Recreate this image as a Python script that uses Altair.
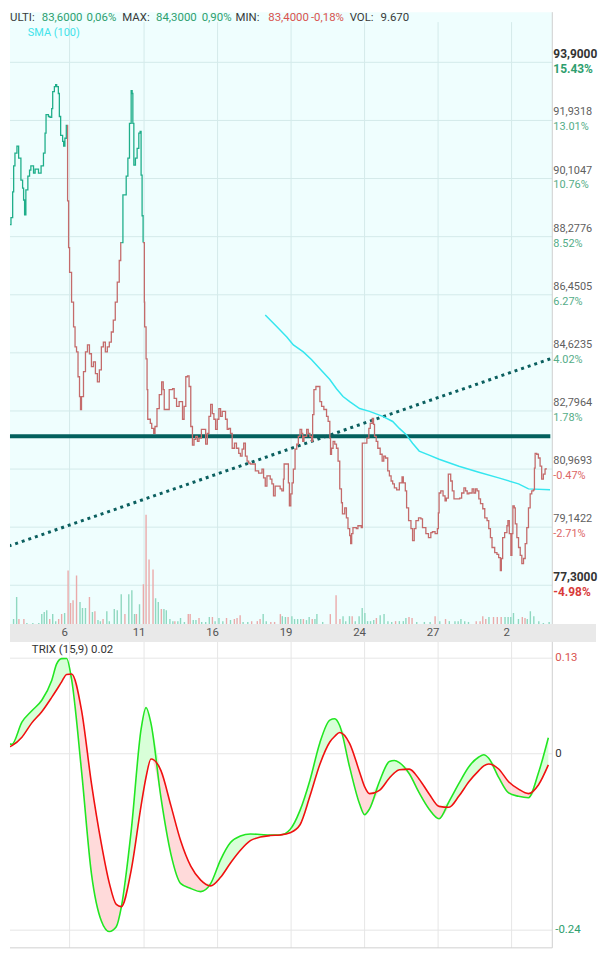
import altair as alt
import pandas as pd

# ============================ DATA ============================
# time axis: positions of the day gridlines and their labels
day_pos = [68, 143, 217, 291, 365, 439, 513]
day_labels = ["6", "11", "16", "19", "24", "27", "2"]

# header quote line
header_text = ["ULTI:", "83,6000", "0,06%", "MAX:", "84,3000", "0,90%",
               "MIN:", "83,4000", "-0,18%", "VOL:", "9.670"]
header_kind = ["lab", "up", "up", "lab", "up", "up", "lab", "down", "down", "lab", "lab"]

# price (close) path, split where the line colour changes
price_up_1 = [(0, 87.61), (5, 87.61), (5.5, 88.18), (6.7, 88.75), (9, 88.97), (10.7, 89.79),
              (11.7, 90.61), (13, 91.02), (15, 91.24), (16.7, 90.86), (19, 90.16), (20.7, 89.91),
              (21.7, 89.53), (22.7, 89.06), (24, 89.85), (26, 90.29), (27.7, 90.48), (29, 90.61),
              (31.7, 90.38), (33.3, 90.51), (36.7, 90.38), (39.3, 90.61), (41.7, 91.02),
              (43.3, 91.65), (44.3, 92.24), (46.7, 92.18), (48.3, 92.15), (50, 92.43), (51, 92.97),
              (52.7, 93.13), (54, 93.19), (55, 93.13), (56.7, 92.91), (57.7, 92.18), (59, 91.58),
              (61, 91.39), (62, 91.24), (63.3, 91.49), (64.7, 91.90), (65.7, 91.90)]
price_down_1 = [(65.7, 91.90), (66, 89.50), (67, 88.02), (68, 87.23), (70, 86.29), (72, 85.50),
                (73.5, 84.87), (75, 84.71), (76.5, 83.92), (78, 83.29), (79, 82.88), (80, 83.29),
                (82, 84.08), (84, 84.71), (86, 84.93), (88, 84.65), (90, 84.24), (92, 84.39),
                (94, 84.02), (96, 83.76), (98, 84.14), (100, 84.87), (102, 85.02), (104, 84.71),
                (106, 84.87), (108, 85.02), (110, 85.34), (112, 85.72), (114, 86.29), (116, 86.92),
                (118, 87.61), (119.5, 88.18), (120, 88.18)]
price_up_2 = [(120, 88.18), (121.7, 89.69), (125, 90.29), (126.7, 90.86), (128.3, 91.96),
              (130, 93.00), (131, 92.91), (131.7, 91.96), (132.7, 90.64), (134.3, 90.86),
              (136, 91.17), (137.7, 91.65), (139, 91.71), (140, 90.32), (141, 89.03), (142, 88.18)]
price_down_2 = [(142, 88.18), (143.3, 86.29), (143.6, 85.50), (145, 84.49), (146, 83.51),
                (146.7, 82.57), (149.3, 82.44), (150.7, 82.28), (152.7, 82.12), (154, 82.34),
                (156, 82.91), (158.3, 83.35), (160.7, 83.76), (162.3, 83.51), (163.3, 82.88),
                (166.7, 82.88), (168.3, 83.51), (171.7, 83.54), (173.3, 83.23), (175.7, 82.98),
                (178.3, 83.13), (180, 83.13), (181.7, 82.57), (183.3, 82.98), (185, 83.92),
                (186.7, 83.95), (188.3, 83.61), (190, 82.34), (191.7, 81.75), (193.3, 81.93),
                (195, 82.03), (196.7, 81.87), (198.3, 81.97), (200.7, 82.25), (202.7, 82.25),
                (205, 81.78), (206.7, 82.12), (208.3, 82.66), (210, 83.04), (211.7, 82.75),
                (213.3, 82.57), (215, 82.25), (216.7, 82.57), (218.3, 82.91), (220, 82.66),
                (221.7, 82.82), (223.3, 82.82), (225, 82.57), (226.7, 82.25), (228.3, 82.28),
                (230, 82.12), (231.7, 81.65), (234, 81.81), (236, 81.65), (238.3, 81.49),
                (240, 81.40), (241.7, 81.62), (243.3, 81.81), (245, 81.40), (246.7, 81.24),
                (248.3, 81.18), (250, 81.15), (252.7, 81.15), (255, 80.93), (258.3, 80.86),
                (261.7, 80.99), (263.3, 80.71), (265, 80.45), (266.7, 80.77), (270, 80.67),
                (271.7, 80.52), (273.3, 80.14), (275, 80.45), (276.7, 80.45), (280, 80.36),
                (281.7, 80.30), (283.3, 80.67), (284, 81.15), (286.7, 81.15), (288.3, 80.55),
                (289.3, 79.82), (290.7, 80.20), (292, 80.55), (293.3, 80.99), (295, 81.62),
                (296.7, 81.78), (298.3, 82.03), (300, 82.25), (301.7, 82.12), (302.7, 81.87),
                (304, 82.03), (306.7, 82.25), (308.3, 82.12), (310, 82.03), (311.7, 81.87),
                (312.7, 82.72), (314, 83.51), (316, 83.61), (318.3, 83.61), (320, 83.13),
                (321.7, 82.98), (324, 82.88), (326.7, 82.66), (328.3, 82.50), (330, 81.97),
                (330.7, 81.46), (331.7, 81.65), (333.3, 81.87), (335, 81.78), (336.7, 81.65),
                (338.3, 81.24), (340, 80.36), (341.7, 79.92), (342.7, 79.57), (345, 79.76),
                (346.7, 79.44), (348.3, 79.10), (350, 78.88), (351, 78.62), (352, 78.94),
                (353.3, 79.13), (355, 79.13), (356.7, 79.10), (358.3, 79.19), (361.7, 79.13),
                (362.7, 81.81), (365, 81.81), (367.3, 81.97), (369.3, 82.28), (370.7, 82.44),
                (372.7, 82.60), (374, 82.41), (375, 82.03), (376.7, 81.87), (378.3, 81.65),
                (380.7, 81.46), (382.7, 81.24), (384.3, 81.40), (386, 81.34), (388.3, 80.93),
                (390, 80.77), (391.7, 80.61), (393.3, 80.52), (395, 80.39), (397.3, 80.33),
                (400, 80.55), (402.7, 80.74), (404, 80.55), (406, 80.30), (407.3, 79.76),
                (409.3, 79.35), (411.7, 79.10), (413.3, 78.72), (415, 79.10), (416.7, 79.35),
                (419.3, 79.44), (421.7, 79.41), (423.3, 79.13), (426.7, 78.94), (429.3, 78.81),
                (431.7, 78.97), (433.3, 79.00), (436, 78.94), (438.3, 79.10), (439.3, 79.60),
                (440, 80.23), (441.7, 80.30), (444, 80.14), (446, 79.98), (447.3, 80.07),
                (449.3, 80.83), (451.7, 80.61), (453.3, 80.30), (455, 80.04), (458.3, 80.04),
                (460.7, 80.07), (462.7, 80.23), (465, 80.39), (466.7, 80.30), (468.3, 80.20),
                (470, 80.23), (473.3, 80.36), (475, 80.23), (476.7, 80.36), (478.3, 80.30),
                (480, 80.04), (481.7, 79.89), (484, 79.73), (486, 79.44), (488.3, 79.35),
                (490, 79.10), (491.7, 78.81), (493.3, 78.50), (496, 78.34), (498.3, 78.28),
                (500, 78.18), (501.7, 77.77), (502.7, 78.15), (504, 78.81), (506, 78.97),
                (508.3, 79.19), (509.3, 79.35), (510.7, 78.94), (512.3, 78.25), (513.3, 78.94),
                (514.3, 79.82), (515.7, 79.76), (516.7, 79.25), (518.3, 78.81), (520, 78.50),
                (521.7, 78.25), (523.3, 77.99), (525, 78.15), (526.7, 78.62), (528.3, 79.13),
                (530, 79.76), (531.7, 80.20), (533.3, 80.30), (535, 80.33), (536, 81.02),
                (536.7, 81.49), (538.3, 81.46), (540, 81.34), (541.7, 81.08), (543.3, 80.67),
                (545, 80.83), (546.7, 80.99), (547.7, 81.02)]

# SMA(100)
sma_t = [265, 275, 286.7, 293.3, 303.3, 311.7, 320, 330, 336.7, 343.3, 350, 360, 370,
         383.3, 393.3, 400, 406.7, 413.3, 420, 430, 440, 460, 480, 500, 520, 530, 551.7]
sma_v = [85.88, 85.56, 85.18, 84.93, 84.71, 84.46, 84.17, 83.83, 83.54, 83.29, 83.13, 82.91,
         82.82, 82.66, 82.50, 82.28, 82.09, 81.81, 81.56, 81.43, 81.30, 81.08, 80.89, 80.71,
         80.52, 80.36, 80.33]

# horizontal support level and dotted trend line
support_level = 82.03
trend_t = [0, 552]
trend_v = [78.47, 84.49]

# volume (thousands of shares)
vol_t = [3.9, 7, 11.6, 14.7, 17, 22, 25, 31, 37, 40,
         42.5, 45, 48, 51, 54, 57, 60, 63, 66.5, 69,
         71.5, 75, 78.5, 81, 84, 88, 91, 93.5, 96.6, 99,
         101.7, 105.5, 108, 113, 116, 120, 123.7, 127.6, 130.7, 133.4,
         135.3, 138.4, 142.3, 145, 148, 152, 154.6, 157.3, 160.4, 163,
         165.4, 169, 172, 174, 177, 179.7, 183.6, 187.5, 189.4, 192.5,
         195.2, 198.3, 201, 205, 208.7, 211.8, 214.5, 218.4, 222.3, 226,
         230, 233.9, 236.6, 239.7, 242.7, 247.4, 251.3, 257, 259.8, 262.9,
         266, 270.6, 274.4, 280.2, 282.2, 285.3, 288, 291.8, 294.5, 297.6,
         300.7, 303.4, 306.5, 309.2, 312.3, 315, 317, 322.8, 330.5, 336.3,
         340.2, 343.3, 346, 349.8, 352.5, 355.6, 359.5, 362.6, 365.3, 368,
         371, 374.2, 376.9, 380.7, 384.6, 388.5, 392.3, 396.2, 400, 404,
         406.6, 409.7, 412.8, 417.5, 425.2, 431, 436, 440.7, 446.5, 450.3,
         456, 459.2, 462, 465.8, 469.6, 477.4, 481.3, 484, 487, 490.2,
         494.8, 498.6, 502.5, 506.4, 509.5, 512.2, 514.9, 519.9, 523.8, 526.5,
         528.8, 531.9, 535.4, 540.4, 545, 550.8]
vol_k = [34, 10, 24, 130, 24, 24, 5, 5, 5, 48,
         58, 67, 24, 48, 14, 24, 48, 53, 259, 101,
         115, 235, 106, 77, 77, 130, 58, 62, 19, 14,
         24, 62, 14, 72, 67, 144, 48, 144, 163, 48,
         48, 96, 192, 528, 312, 264, 125, 106, 72, 72,
         67, 24, 14, 14, 14, 29, 10, 48, 48, 19,
         19, 29, 10, 10, 34, 34, 14, 29, 14, 29,
         19, 24, 29, 43, 10, 10, 14, 14, 24, 48,
         14, 10, 10, 48, 38, 34, 34, 38, 24, 24,
         24, 24, 19, 34, 24, 24, 48, 10, 48, 139,
         24, 38, 14, 38, 38, 14, 38, 77, 53, 14,
         14, 19, 29, 43, 48, 14, 10, 14, 14, 14,
         29, 34, 29, 10, 10, 10, 38, 14, 24, 14,
         14, 14, 24, 14, 10, 14, 14, 38, 24, 34,
         34, 34, 34, 34, 34, 34, 53, 24, 34, 29,
         24, 62, 38, 14, 5, 9.67]
vol_dir = ("ggggrrgggg" "ggrggrrgrr" "rrgggrgrgg" "rgggggrggg" "rgrrrrggrg"
           "gggrgggrrg" "grgggrgggr" "grrrggrrrg" "grrrggrggg" "grggrgggrr"
           "rgggrggggg" "ggrggggrgg" "grrgggrgrg" "gggggrrrrg" "rrrgggggrr" "gggggg")

# TRIX(15,9) and its signal line
trix_t = [0, 10, 20, 30, 40, 50, 55, 60, 65, 70, 80, 90, 100, 108, 115, 120, 130, 140, 145,
          150, 160, 170, 180, 190, 200, 210, 220, 230, 240, 250, 260, 270, 280, 290, 300, 310,
          320, 330, 335, 340, 350, 360, 365, 370, 380, 390, 395, 400, 410, 420, 430, 440, 450,
          460, 470, 480, 485, 490, 500, 510, 520, 530, 540, 550]
trix_v = [0.0156, 0.013, 0.0429, 0.0585, 0.0728, 0.0997, 0.1222, 0.1294, 0.1296, 0.1014,
          -0.023, -0.163, -0.2275, -0.2418, -0.2353, -0.2093, -0.1053, 0.0334, 0.0628, 0.041,
          -0.0598, -0.1365, -0.1768, -0.1833, -0.1876, -0.1768, -0.1443, -0.1209, -0.1118,
          -0.1092, -0.1098, -0.1105, -0.1105, -0.1031, -0.0771, -0.036, 0.0151, 0.0458, 0.0476,
          0.0381, -0.0186, -0.0684, -0.0828, -0.075, -0.0377, -0.0104, -0.0091, -0.0121,
          -0.0273, -0.0533, -0.0754, -0.0884, -0.065, -0.0403, -0.0176, -0.0044, -0.0013,
          -0.0061, -0.0322, -0.0533, -0.0579, -0.0598, -0.0263, 0.0218]
signal_v = [0.0065, 0.011, 0.0225, 0.042, 0.0572, 0.0767, 0.0871, 0.0978, 0.1079, 0.1086,
            0.0594, -0.0403, -0.1226, -0.176, -0.205, -0.208, -0.1586, -0.0706, -0.0316,
            -0.0072, -0.023, -0.0706, -0.1191, -0.153, -0.172, -0.1798, -0.1681, -0.1486,
            -0.1313, -0.1183, -0.1134, -0.1113, -0.1105, -0.1075, -0.0966, -0.0576, -0.0143,
            0.016, 0.0238, 0.029, 0.0139, -0.0251, -0.0447, -0.0543, -0.0498, -0.033, -0.026,
            -0.0218, -0.0209, -0.0346, -0.0547, -0.0716, -0.0728, -0.0576, -0.0381, -0.023,
            -0.0165, -0.0139, -0.0208, -0.0381, -0.0481, -0.0542, -0.0425, -0.0152]

# right-hand price axis labels (bottom to top) and their % change
price_labels = ["77,3000", "79,1422", "80,9693", "82,7964", "84,6235",
                "86,4505", "88,2776", "90,1047", "91,9318", "93,9000"]
pct_labels = ["-4.98%", "-2.71%", "-0.47%", "1.78%", "4.02%",
              "6.27%", "8.52%", "10.76%", "13.01%", "15.43%"]
price_lo, price_hi = 77.3, 93.9
trix_ticks = [0.13, 0, -0.24]
trix_tick_labels = ["0.13", "0", "-0.24"]

# ============================ LAYOUT / STYLE ============================
FONT = "Roboto"
W, H = 546, 943            # plot area
TOP_H = 616                # price panel
BAND_Y2 = 634              # date band bottom
TRIX_BOTTOM = 942
RIGHT_W = 590
LABEL_X = 547

CYAN_BG = "#effefe"
GRID_TOP = "#d4eaea"
GRID_BOT = "#e6e6e6"
UP_LINE, DOWN_LINE = "#1fae8a", "#c46b6b"
UP_VOL, DOWN_VOL = "#8fd8c0", "#eaaaaa"
UP_TXT, DOWN_TXT = "#2e9e6e", "#d9534f"

# price scale: 77.3 at y=577, 93.9 at y=50.5 (chart coordinates)
_y_lo, _y_hi = 577.0, 50.5
_k = (_y_lo - _y_hi) / (price_hi - price_lo)
PY = alt.Scale(domain=[price_lo - (H - _y_lo) / _k, price_hi + _y_hi / _k], nice=False, zero=False)
# trix scale: 0 at y=746.6, 740 px per unit
_tz, _tk = 746.6, 740.0
TY = alt.Scale(domain=[-(H - _tz) / _tk, _tz / _tk], nice=False, zero=False)
# volume scale: base at TOP_H, 4.8 thousand per px
_vk = 4.8
VY = alt.Scale(domain=[-(H - TOP_H) * _vk, TOP_H * _vk], nice=False, zero=False)
X = alt.Scale(domain=[8, 554], nice=False, zero=False)

ONE = pd.DataFrame({"k": [0]})


def xf(field="t"):
    return alt.X(f"{field}:Q", scale=X, axis=None)


def rect(x1, x2, y1, y2, color):
    return alt.Chart(ONE).mark_rect(color=color).encode(
        x=alt.value(x1), x2=alt.value(x2), y=alt.value(y1), y2=alt.value(y2))


def hrule(x1, x2, y, color, w=1):
    return alt.Chart(ONE).mark_rule(color=color, strokeWidth=w).encode(
        x=alt.value(x1), x2=alt.value(x2), y=alt.value(y))


def vrule(x, y1, y2, color, w=1):
    return alt.Chart(ONE).mark_rule(color=color, strokeWidth=w).encode(
        x=alt.value(x), y=alt.value(y1), y2=alt.value(y2))


# ---------- dataframes ----------
days_df = pd.DataFrame({"t": day_pos, "lab": day_labels})

rows = []
for s, (seg, d) in enumerate([(price_up_1, "up"), (price_down_1, "down"),
                              (price_up_2, "up"), (price_down_2, "down")]):
    for t, v in seg:
        rows.append({"t": t, "v": v, "seg": s, "dir": d})
price_df = pd.DataFrame(rows)

sma_df = pd.DataFrame({"t": sma_t, "v": sma_v})
trend_df = pd.DataFrame({"t": trend_t, "v": trend_v})
assert len(vol_t) == len(vol_k) == len(vol_dir)
vol_df = pd.DataFrame({"t": vol_t, "vol": vol_k, "vdir": list(vol_dir)})
assert len(trix_t) == len(trix_v) == len(signal_v)
trix_df = pd.DataFrame({"t": trix_t, "trix": trix_v, "sig": signal_v})

n = len(price_labels)
tick_vals = [price_lo + i * (price_hi - price_lo) / (n - 1) for i in range(n)]
ptick_df = pd.DataFrame({"v": tick_vals, "p": price_labels, "pct": pct_labels,
                         "ext": [i in (0, n - 1) for i in range(n)],
                         "neg": [s.startswith("-") for s in pct_labels]})
ttick_df = pd.DataFrame({"v": trix_ticks, "lab": trix_tick_labels})

layers = []
# backgrounds
layers.append(rect(0, W, 0, TOP_H, CYAN_BG))
layers.append(rect(0, RIGHT_W, TOP_H, BAND_Y2, "#e9e9e9"))

# grids
layers.append(alt.Chart(days_df).mark_rule(color=GRID_TOP).encode(
    x=xf(), y=alt.value(10), y2=alt.value(TOP_H)))
layers.append(alt.Chart(ptick_df).mark_rule(color=GRID_TOP).encode(
    y=alt.Y("v:Q", scale=PY, axis=None), x=alt.value(0), x2=alt.value(W)))
layers.append(alt.Chart(days_df).mark_rule(color=GRID_BOT).encode(
    x=xf(), y=alt.value(BAND_Y2), y2=alt.value(TRIX_BOTTOM)))
layers.append(alt.Chart(ttick_df).mark_rule(color=GRID_BOT).encode(
    y=alt.Y("v:Q", scale=TY, axis=None), x=alt.value(0), x2=alt.value(W)))
layers.append(vrule(W, 0, TOP_H, "#cfcfcf"))
layers.append(vrule(W, BAND_Y2, TRIX_BOTTOM, "#cfcfcf"))
layers.append(hrule(0, W, TRIX_BOTTOM, "#d0d0d0"))

# volume bars
layers.append(alt.Chart(vol_df).transform_calculate(base="0").mark_rule(
    strokeWidth=1.4, clip=True).encode(
    x=xf(), y=alt.Y("vol:Q", scale=VY, axis=None), y2="base:Q",
    color=alt.Color("vdir:N", scale=alt.Scale(domain=["g", "r"], range=[UP_VOL, DOWN_VOL]),
                    legend=None)))

# support level and trend line
layers.append(alt.Chart(pd.DataFrame({"v": [support_level]})).mark_rule(
    color="#03605e", strokeWidth=4).encode(
    y=alt.Y("v:Q", scale=PY, axis=None), x=alt.value(0), x2=alt.value(544)))
layers.append(alt.Chart(trend_df).mark_line(
    color="#0b5f5f", strokeWidth=3, strokeDash=[3, 4], clip=True).encode(
    x=xf(), y=alt.Y("v:Q", scale=PY, axis=None)))

# SMA
layers.append(alt.Chart(sma_df).mark_line(color="#35e6ef", strokeWidth=1.5).encode(
    x=xf(), y=alt.Y("v:Q", scale=PY, axis=None)))

# price line
layers.append(alt.Chart(price_df).mark_line(
    interpolate="step-after", strokeWidth=1.3, clip=True).encode(
    x=xf(), y=alt.Y("v:Q", scale=PY, axis=None),
    color=alt.Color("dir:N", scale=alt.Scale(domain=["up", "down"], range=[UP_LINE, DOWN_LINE]),
                    legend=None),
    detail="seg:N"))

# TRIX fills and lines
tbase = alt.Chart(trix_df).transform_calculate(
    hi="max(datum.trix, datum.sig)", lo="min(datum.trix, datum.sig)")
layers.append(tbase.mark_area(color="#d8ffd8", interpolate="monotone", clip=True).encode(
    x=xf(), y=alt.Y("hi:Q", scale=TY, axis=None), y2="sig:Q"))
layers.append(tbase.mark_area(color="#ffdada", interpolate="monotone", clip=True).encode(
    x=xf(), y=alt.Y("sig:Q", scale=TY, axis=None), y2="lo:Q"))
layers.append(alt.Chart(trix_df).mark_line(
    color="#22e622", strokeWidth=1.6, interpolate="monotone", clip=True).encode(
    x=xf(), y=alt.Y("trix:Q", scale=TY, axis=None)))
layers.append(alt.Chart(trix_df).mark_line(
    color="#f01010", strokeWidth=1.6, interpolate="monotone", clip=True).encode(
    x=xf(), y=alt.Y("sig:Q", scale=TY, axis=None)))

# ---------- texts ----------
# header quote line
hx = [0, 32, 77, 113, 147, 193, 227, 260, 303, 342, 373]
kcol = {"lab": "#3a3a3a", "up": UP_TXT, "down": DOWN_TXT}
for txt, kind, x in zip(header_text, header_kind, hx):
    layers.append(alt.Chart(pd.DataFrame({"s": [txt]})).mark_text(
        align="left", baseline="middle", font=FONT, fontSize=11.5, color=kcol[kind]).encode(
        text="s:N", x=alt.value(x), y=alt.value(6)))

layers.append(alt.Chart(pd.DataFrame({"s": ["SMA (100)"]})).mark_text(
    align="left", baseline="middle", font=FONT, fontSize=11, color="#3fe3ea").encode(
    text="s:N", x=alt.value(18), y=alt.value(21)))
layers.append(alt.Chart(pd.DataFrame({"s": ["TRIX (15,9) 0.02"]})).mark_text(
    align="left", baseline="middle", font=FONT, fontSize=11.5, color="#333333").encode(
    text="s:N", x=alt.value(22), y=alt.value(642)))

# day labels in the band
layers.append(alt.Chart(days_df).mark_text(
    baseline="middle", font=FONT, fontSize=11.5, color="#555555", dx=-5).encode(
    x=xf(), y=alt.value(625), text="lab:N"))

# right price labels
norm = alt.Chart(ptick_df).transform_filter("!datum.ext")
ext = alt.Chart(ptick_df).transform_filter("datum.ext")
pct_color = alt.Color("neg:N", scale=alt.Scale(domain=[False, True], range=["#55ad88", "#dc6565"]),
                      legend=None)
pct_color_ext = alt.Color("neg:N", scale=alt.Scale(domain=[False, True], range=[UP_TXT, "#d83a3a"]),
                          legend=None)
layers.append(norm.mark_text(align="left", baseline="middle", font=FONT, fontSize=11,
                             color="#606060", dy=-8).encode(
    x=alt.value(LABEL_X), y=alt.Y("v:Q", scale=PY, axis=None), text="p:N"))
layers.append(norm.mark_text(align="left", baseline="middle", font=FONT, fontSize=11,
                             dy=7).encode(
    x=alt.value(LABEL_X), y=alt.Y("v:Q", scale=PY, axis=None), text="pct:N", color=pct_color))
layers.append(ext.mark_text(align="left", baseline="middle", font=FONT, fontSize=12,
                            fontWeight="bold", color="#333333", dy=-8).encode(
    x=alt.value(LABEL_X), y=alt.Y("v:Q", scale=PY, axis=None), text="p:N"))
layers.append(ext.mark_text(align="left", baseline="middle", font=FONT, fontSize=12,
                            fontWeight="bold", dy=7).encode(
    x=alt.value(LABEL_X), y=alt.Y("v:Q", scale=PY, axis=None), text="pct:N", color=pct_color_ext))

# TRIX axis labels
tcol = alt.Color("lab:N", scale=alt.Scale(domain=trix_tick_labels,
                                          range=["#d9534f", "#333333", UP_TXT]), legend=None)
layers.append(alt.Chart(ttick_df).mark_text(align="left", baseline="middle", font=FONT,
                                            fontSize=11.5).encode(
    x=alt.value(549), y=alt.Y("v:Q", scale=TY, axis=None), text="lab:N", color=tcol))

chart = alt.layer(*layers).resolve_scale(y="independent", color="independent").properties(
    width=W, height=H, background="white", padding=0
).configure_view(stroke=None)

chart.save("out.html", embed_options={"renderer": "svg", "actions": False})
